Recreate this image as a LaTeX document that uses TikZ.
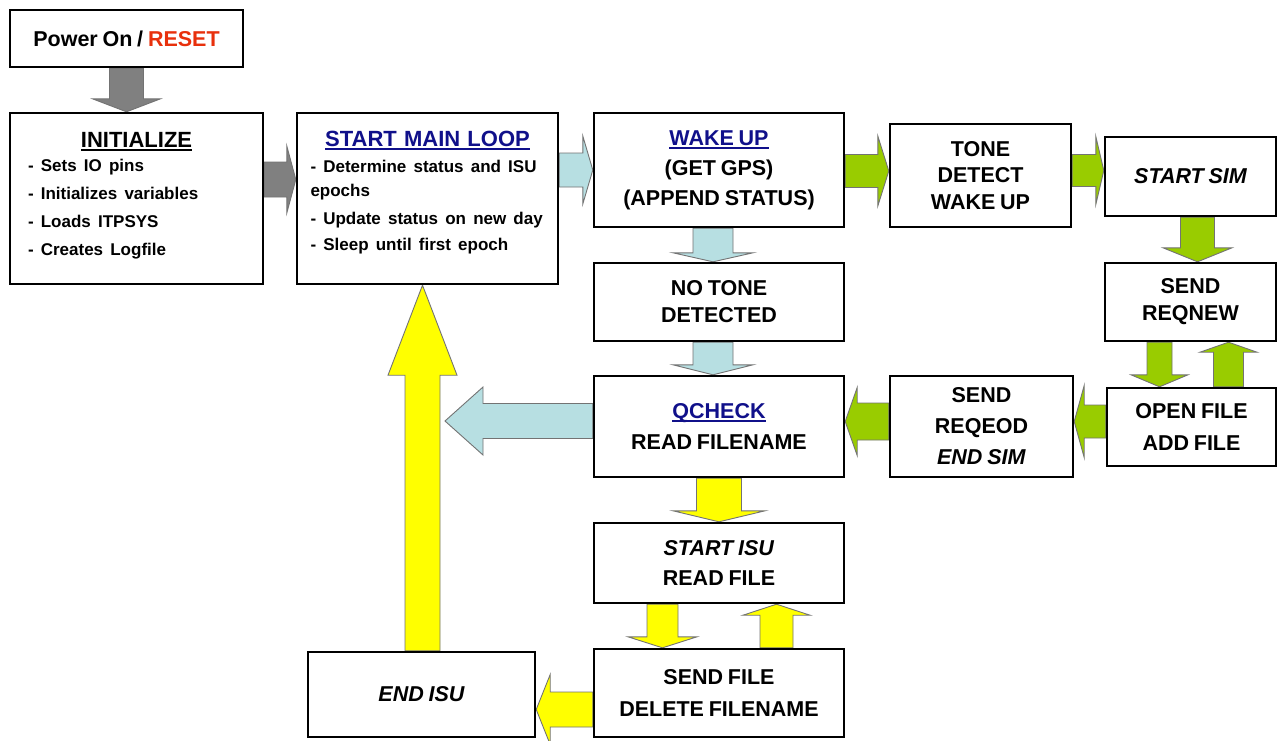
\documentclass[tikz,border=0pt]{standalone}
\usepackage{fontspec}
\setmainfont{Liberation Sans}[WordSpace=0.8]
\usetikzlibrary{calc}
\pgfdeclarelayer{bg}
\pgfsetlayers{bg,main}
\definecolor{navyt}{HTML}{10108A}
\definecolor{resetred}{HTML}{E8300C}
\definecolor{lblue}{HTML}{B7DFE2}
\definecolor{lgreen}{HTML}{99CC00}
\definecolor{yel}{HTML}{FFFF00}
\definecolor{garr}{HTML}{808080}
\newsavebox\ulbox
\newcommand\ulx[1]{\sbox\ulbox{#1}\rlap{\rule[-3.5pt]{\wd\ulbox}{1.8pt}}\usebox\ulbox}
% block arrows: style, start, end, shaft half width, head half width, head length
\newcommand\barD[6]{\path[#1] let \p1=#2, \p2=#3 in (\x1-#4,\y1) -- (\x1-#4,\y2+#6) -- (\x1-#5,\y2+#6) -- (\x1,\y2) -- (\x1+#5,\y2+#6) -- (\x1+#4,\y2+#6) -- (\x1+#4,\y1) -- cycle;}
\newcommand\barU[6]{\path[#1] let \p1=#2, \p2=#3 in (\x1-#4,\y1) -- (\x1-#4,\y2-#6) -- (\x1-#5,\y2-#6) -- (\x1,\y2) -- (\x1+#5,\y2-#6) -- (\x1+#4,\y2-#6) -- (\x1+#4,\y1) -- cycle;}
\newcommand\barR[6]{\path[#1] let \p1=#2, \p2=#3 in (\x1,\y1-#4) -- (\x2-#6,\y1-#4) -- (\x2-#6,\y1-#5) -- (\x2,\y1) -- (\x2-#6,\y1+#5) -- (\x2-#6,\y1+#4) -- (\x1,\y1+#4) -- cycle;}
\newcommand\barL[6]{\path[#1] let \p1=#2, \p2=#3 in (\x1,\y1-#4) -- (\x2+#6,\y1-#4) -- (\x2+#6,\y1-#5) -- (\x2,\y1) -- (\x2+#6,\y1+#5) -- (\x2+#6,\y1+#4) -- (\x1,\y1+#4) -- cycle;}
\tikzset{
  box/.style={draw, line width=2.4pt, fill=white, inner sep=0pt, align=center,
    font=\bfseries\fontsize{21.5}{27}\selectfont},
  listtext/.style={inner sep=0pt, align=left, anchor=north, font=\bfseries\fontsize{21.5}{#1}\selectfont},
  arr/.style={fill=#1, draw=black!55, line width=0.9pt, line join=miter},
}
\begin{document}
\begin{tikzpicture}[x=1pt,y=-1pt]
\useasboundingbox (0,0) rectangle (1278,740);
% boxes
\node[box, minimum width=233pt, minimum height=57pt] (pw) at (126.5,38.5) {Power On / \textcolor{resetred}{RESET}};
\node[box, minimum width=253pt, minimum height=171pt] (init) at (136.5,198.5) {};
\node[listtext=28, text width=217pt] (inittxt) at (136.5,132)
 {{\centering\fontsize{22}{26}\selectfont\ulx{INITIALIZE}\par}\vspace{-4pt}
  \fontsize{17}{28}\selectfont - Sets IO pins\\ - Initializes variables\\ - Loads ITPSYS\\ - Creates Logfile};
\node[box, minimum width=261pt, minimum height=171pt] (sml) at (427.5,198.5) {};
\node[listtext=26, text width=234pt] (smltxt) at (427.5,131)
 {{\centering\fontsize{22}{26}\selectfont\textcolor{navyt}{\ulx{START MAIN LOOP}}\par}
  \fontsize{17}{26}\selectfont - Determine status and ISU\\[-2pt] epochs\\[2pt] - Update status on new day\\ - Sleep until first epoch};
\node[box, minimum width=250pt, minimum height=114pt, font=\bfseries\fontsize{21.5}{30}\selectfont] (wake) at (719,170)
 {\textcolor{navyt}{\ulx{WAKE UP}}\\ (GET GPS)\\ (APPEND STATUS)};
\node[box, minimum width=181pt, minimum height=103pt, font=\bfseries\fontsize{21.5}{26.5}\selectfont] (tone) at (980.5,175.5) {TONE\\ DETECT\\ WAKE UP};
\node[box, minimum width=171pt, minimum height=79pt] (ssim) at (1190.5,176.5) {\itshape START SIM};
\node[box, minimum width=171pt, minimum height=78pt] (reqnew) at (1190.5,302) {SEND\\ REQNEW};
\node[box, minimum width=250pt, minimum height=78pt] (notone) at (719,302) {NO TONE\\ DETECTED};
\node[box, minimum width=250pt, minimum height=101pt, font=\bfseries\fontsize{21.5}{31}\selectfont] (qcheck) at (719,426.5)
 {\textcolor{navyt}{\ulx{QCHECK}}\\ READ FILENAME};
\node[box, minimum width=183pt, minimum height=101pt, font=\bfseries\fontsize{21.5}{31}\selectfont] (reqeod) at (981.5,426.5)
 {SEND\\ REQEOD\\ \textit{END SIM}};
\node[box, minimum width=169pt, minimum height=78pt, font=\bfseries\fontsize{21.5}{32}\selectfont] (open) at (1191.5,427) {OPEN FILE\\ ADD FILE};
\node[box, minimum width=250pt, minimum height=80pt, font=\bfseries\fontsize{21.5}{30}\selectfont] (startisu) at (719,563) {\textit{START ISU}\\ READ FILE};
\node[box, minimum width=250pt, minimum height=88pt, font=\bfseries\fontsize{21.5}{32}\selectfont] (sendfile) at (719,693) {SEND FILE\\ DELETE FILENAME};
\node[box, minimum width=227pt, minimum height=85pt] (endisu) at (421.5,694.5) {\itshape END ISU};
\coordinate (blend) at (445,421);
% arrows
\begin{pgfonlayer}{bg}
\fill[white] (0,0) rectangle (1278,740);
\barD{arr=garr}{(pw.south)}{(init.north)}{17pt}{34pt}{13pt}
\barR{arr=garr}{([yshift=19pt]init.east)}{(sml.west)}{17.5pt}{33.5pt}{9pt}
\barR{arr=lblue}{(sml.east |- wake.west)}{(wake.west)}{17pt}{34pt}{10pt}
\barR{arr=lgreen}{([yshift=-1pt]wake.east)}{(tone.west)}{16.5pt}{35pt}{11pt}
\barR{arr=lgreen}{([yshift=5pt]tone.east)}{(ssim.west)}{16pt}{34pt}{8pt}
\barD{arr=lgreen}{([xshift=7pt]ssim.south)}{(reqnew.north)}{17pt}{34.5pt}{14pt}
\barD{arr=lgreen}{([xshift=-31pt]reqnew.south)}{(open.north)}{12.5pt}{28.5pt}{12pt}
\barU{arr=lgreen}{([xshift=37pt]open.north)}{(reqnew.south)}{15pt}{28.5pt}{10pt}
\barL{arr=lgreen}{([yshift=5.5pt]open.west)}{(reqeod.east)}{16.5pt}{36pt}{10pt}
\barL{arr=lgreen}{([yshift=5pt]reqeod.west)}{(qcheck.east)}{18.5pt}{34pt}{12pt}
\barD{arr=lblue}{([xshift=-6pt]wake.south)}{(notone.north)}{20pt}{40pt}{9pt}
\barD{arr=lblue}{([xshift=-6pt]notone.south)}{(qcheck.north)}{20pt}{40pt}{10pt}
\barL{arr=lblue}{([yshift=5.5pt]qcheck.west)}{(blend)}{17.5pt}{34pt}{38pt}
\barD{arr=yel}{(qcheck.south)}{(startisu.north)}{22.5pt}{46pt}{11pt}
\barD{arr=yel}{([xshift=-56.5pt]startisu.south)}{(sendfile.north)}{15.5pt}{34.5pt}{11pt}
\barU{arr=yel}{([xshift=57.5pt]sendfile.north)}{(startisu.south)}{16.5pt}{33.5pt}{11pt}
\barL{arr=yel}{([yshift=-16.5pt]sendfile.west)}{(endisu.east)}{17.5pt}{35pt}{14pt}
\barU{arr=yel}{([xshift=1pt]endisu.north)}{(sml.south)}{17.5pt}{34.5pt}{90pt}
\end{pgfonlayer}
\end{tikzpicture}
\end{document}
